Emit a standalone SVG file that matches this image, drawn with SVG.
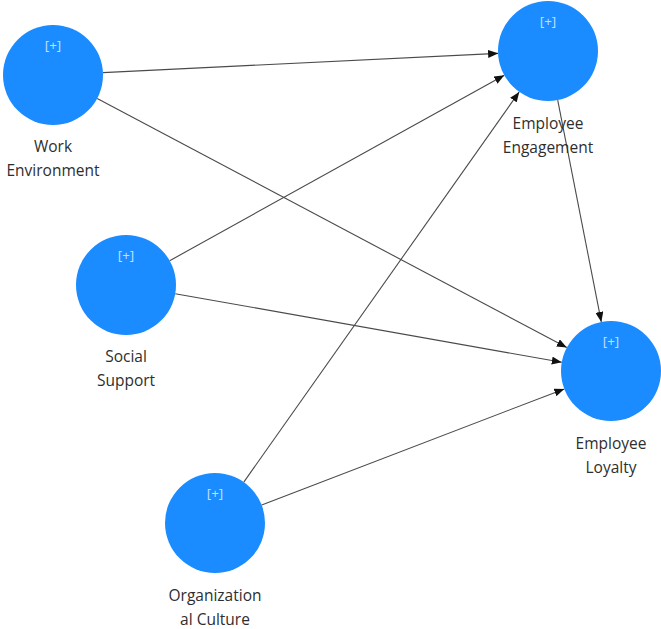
<svg xmlns="http://www.w3.org/2000/svg" width="661" height="629" viewBox="0 0 661 629">
  <defs>
    <marker id="arrow" markerUnits="userSpaceOnUse" markerWidth="10" markerHeight="8" refX="10" refY="4" orient="auto">
      <path d="M0,0 L10,4 L0,8 z" fill="#111"/>
    </marker>
    <style>
      .node circle { fill: #1a8cff; }
      .tag { font-family: "Open Sans", "Noto Sans", sans-serif; font-size: 13.5px; fill: #c4e0ff; text-anchor: middle; }
      .label { font-family: "Open Sans", "Noto Sans", sans-serif; font-size: 15.5px; fill: #2e2e2e; text-anchor: middle; }
      .edges line { stroke: #4a4a4a; stroke-width: 1.1; marker-end: url(#arrow); }
    </style>
  </defs>
  <rect width="661" height="629" fill="#fff"/>

  <g class="edges" id="connectors">
    <line x1="102.9" y1="72.6" x2="498.1" y2="53.4"/>
    <line x1="97.2" y1="98.4" x2="566.8" y2="347.6"/>
    <line x1="169.7" y1="260.7" x2="504.3" y2="75.3"/>
    <line x1="175.2" y1="293.7" x2="561.8" y2="362.3"/>
    <line x1="243.8" y1="482.1" x2="519.2" y2="91.9"/>
    <line x1="261.7" y1="505.1" x2="564.3" y2="388.9"/>
    <line x1="557.7" y1="100.1" x2="601.3" y2="321.9"/>
  </g>

  <g class="node" id="work-environment">
    <circle cx="53" cy="75" r="50"/>
    <text class="tag" x="53" y="50">[+]</text>
    <text class="label" x="53" y="152">Work</text>
    <text class="label" x="53" y="176">Environment</text>
  </g>

  <g class="node" id="employee-engagement">
    <circle cx="548" cy="51" r="50"/>
    <text class="tag" x="548" y="26">[+]</text>
    <text class="label" x="548" y="129">Employee</text>
    <text class="label" x="548" y="153">Engagement</text>
  </g>

  <g class="node" id="social-support">
    <circle cx="126" cy="285" r="50"/>
    <text class="tag" x="126" y="260">[+]</text>
    <text class="label" x="126" y="362">Social</text>
    <text class="label" x="126" y="386">Support</text>
  </g>

  <g class="node" id="employee-loyalty">
    <circle cx="611" cy="371" r="50"/>
    <text class="tag" x="611" y="346">[+]</text>
    <text class="label" x="611" y="449">Employee</text>
    <text class="label" x="611" y="473">Loyalty</text>
  </g>

  <g class="node" id="organizational-culture">
    <circle cx="215" cy="523" r="50"/>
    <text class="tag" x="215" y="498">[+]</text>
    <text class="label" x="215" y="601">Organization</text>
    <text class="label" x="215" y="625">al Culture</text>
  </g>
</svg>
